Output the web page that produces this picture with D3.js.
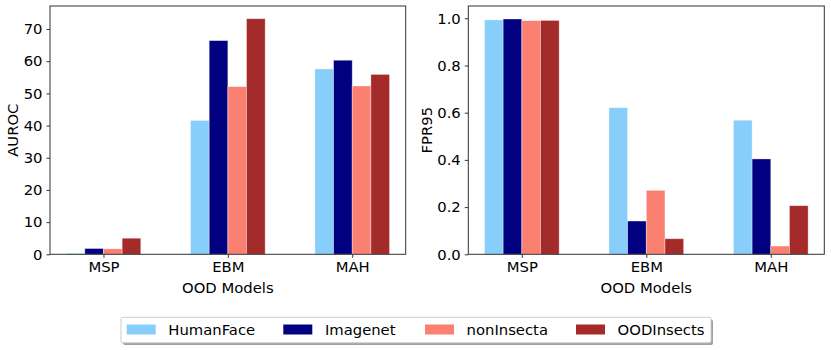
<!DOCTYPE html>
<html><head><meta charset="utf-8">
<script src="https://cdn.jsdelivr.net/npm/d3@7"></script>
<style>
html,body{margin:0;padding:0;background:#fff;}
svg{display:block;font-family:"DejaVu Sans",sans-serif;}
</style></head>
<body>
<svg id="chart" width="831" height="350"></svg>
<script>
const categories = ["MSP", "EBM", "MAH"];
const seriesNames = ["HumanFace", "Imagenet", "nonInsecta", "OODInsects"];
const colors = ["#87CEFA", "#000080", "#FA8072", "#A52A2A"];
// AUROC per series, in category order
const aurocHumanFace = [0.3, 41.6, 57.6];
const aurocImagenet = [1.8, 66.4, 60.3];
const aurocNonInsecta = [1.7, 52.1, 52.3];
const aurocOODInsects = [5.0, 73.2, 55.9];
// FPR95 per series
const fprHumanFace = [0.993, 0.621, 0.568];
const fprImagenet = [0.997, 0.141, 0.404];
const fprNonInsecta = [0.990, 0.271, 0.035];
const fprOODInsects = [0.991, 0.066, 0.206];
const aurocTicks = [0, 10, 20, 30, 40, 50, 60, 70];
const fprTicks = [0, 0.2, 0.4, 0.6, 0.8, 1.0];

const svg = d3.select("#chart");
const fs = 14.8;

function panel(opts) {
  const {left, right, top, bottom, series, ticks, yMax, yLabel, yLabelX, fmt} = opts;
  const g = svg.append("g");
  const barW = 0.15;
  const x = d3.scaleLinear().domain([-0.43, 2.43]).range([left, right]);
  const y = d3.scaleLinear().domain([0, yMax]).range([bottom, top]);
  series.forEach((vals, si) => {
    g.selectAll(null).data(vals).enter().append("rect")
      .attr("x", (d, i) => x(i - 0.3 + si * barW))
      .attr("width", x(barW) - x(0))
      .attr("y", d => y(d))
      .attr("height", d => y(0) - y(d))
      .attr("fill", colors[si])
      .attr("stroke", "#fff").attr("stroke-opacity", 0.45).attr("stroke-width", 0.8);
  });
  // frame
  g.append("rect").attr("x", left).attr("y", top)
    .attr("width", right - left).attr("height", bottom - top)
    .attr("fill", "none").attr("stroke", "#333").attr("stroke-width", 1);
  // y axis
  const ya = d3.axisLeft(y).tickValues(ticks).tickSize(3.5).tickPadding(4).tickFormat(fmt);
  const yg = g.append("g").attr("transform", `translate(${left},0)`).call(ya);
  yg.select(".domain").remove();
  yg.selectAll("text").attr("font-size", fs).attr("fill", "#000").attr("font-family", "DejaVu Sans");
  yg.selectAll("line").attr("stroke", "#333");
  // x axis
  const xa = d3.axisBottom(x).tickValues([0, 1, 2]).tickSize(3.5).tickPadding(4).tickFormat(i => categories[i]);
  const xg = g.append("g").attr("transform", `translate(0,${bottom})`).call(xa);
  xg.select(".domain").remove();
  xg.selectAll("text").attr("font-size", fs).attr("fill", "#000").attr("font-family", "DejaVu Sans");
  xg.selectAll("line").attr("stroke", "#333");
  // labels
  g.append("text").attr("x", x(1)).attr("y", 292.5).attr("text-anchor", "middle")
    .attr("font-size", fs).text("OOD Models");
  g.append("text").attr("transform", `translate(${yLabelX},${(top + bottom) / 2}) rotate(-90)`)
    .attr("text-anchor", "middle").attr("dy", "0.35em").attr("font-size", fs).text(yLabel);
}

panel({left: 50, right: 405.7, top: 6, bottom: 254.3,
  series: [aurocHumanFace, aurocImagenet, aurocNonInsecta, aurocOODInsects],
  ticks: aurocTicks, yMax: 77.15, yLabel: "AUROC", yLabelX: 13, fmt: d3.format("d")});
panel({left: 468.3, right: 824.3, top: 6, bottom: 254.3,
  series: [fprHumanFace, fprImagenet, fprNonInsecta, fprOODInsects],
  ticks: fprTicks, yMax: 1.052, yLabel: "FPR95", yLabelX: 427, fmt: d3.format(".1f")});

// legend
const lg = svg.append("g");
lg.append("rect").attr("x", 123).attr("y", 319.5).attr("width", 590).attr("height", 25.5)
  .attr("rx", 2).attr("fill", "#888").attr("opacity", 0.8);
lg.append("rect").attr("x", 121).attr("y", 317.3).attr("width", 590).attr("height", 25.5)
  .attr("rx", 2).attr("fill", "#fff").attr("stroke", "#ccc").attr("stroke-width", 1);
const patchX = [126.7, 283.3, 425, 576];
seriesNames.forEach((n, i) => {
  lg.append("rect").attr("x", patchX[i]).attr("y", 324.5).attr("width", 29).attr("height", 10)
    .attr("fill", colors[i]);
  lg.append("text").attr("x", patchX[i] + 41.6).attr("y", 329.5).attr("dy", "0.35em")
    .attr("font-size", fs).text(n);
});
</script>
</body></html>
